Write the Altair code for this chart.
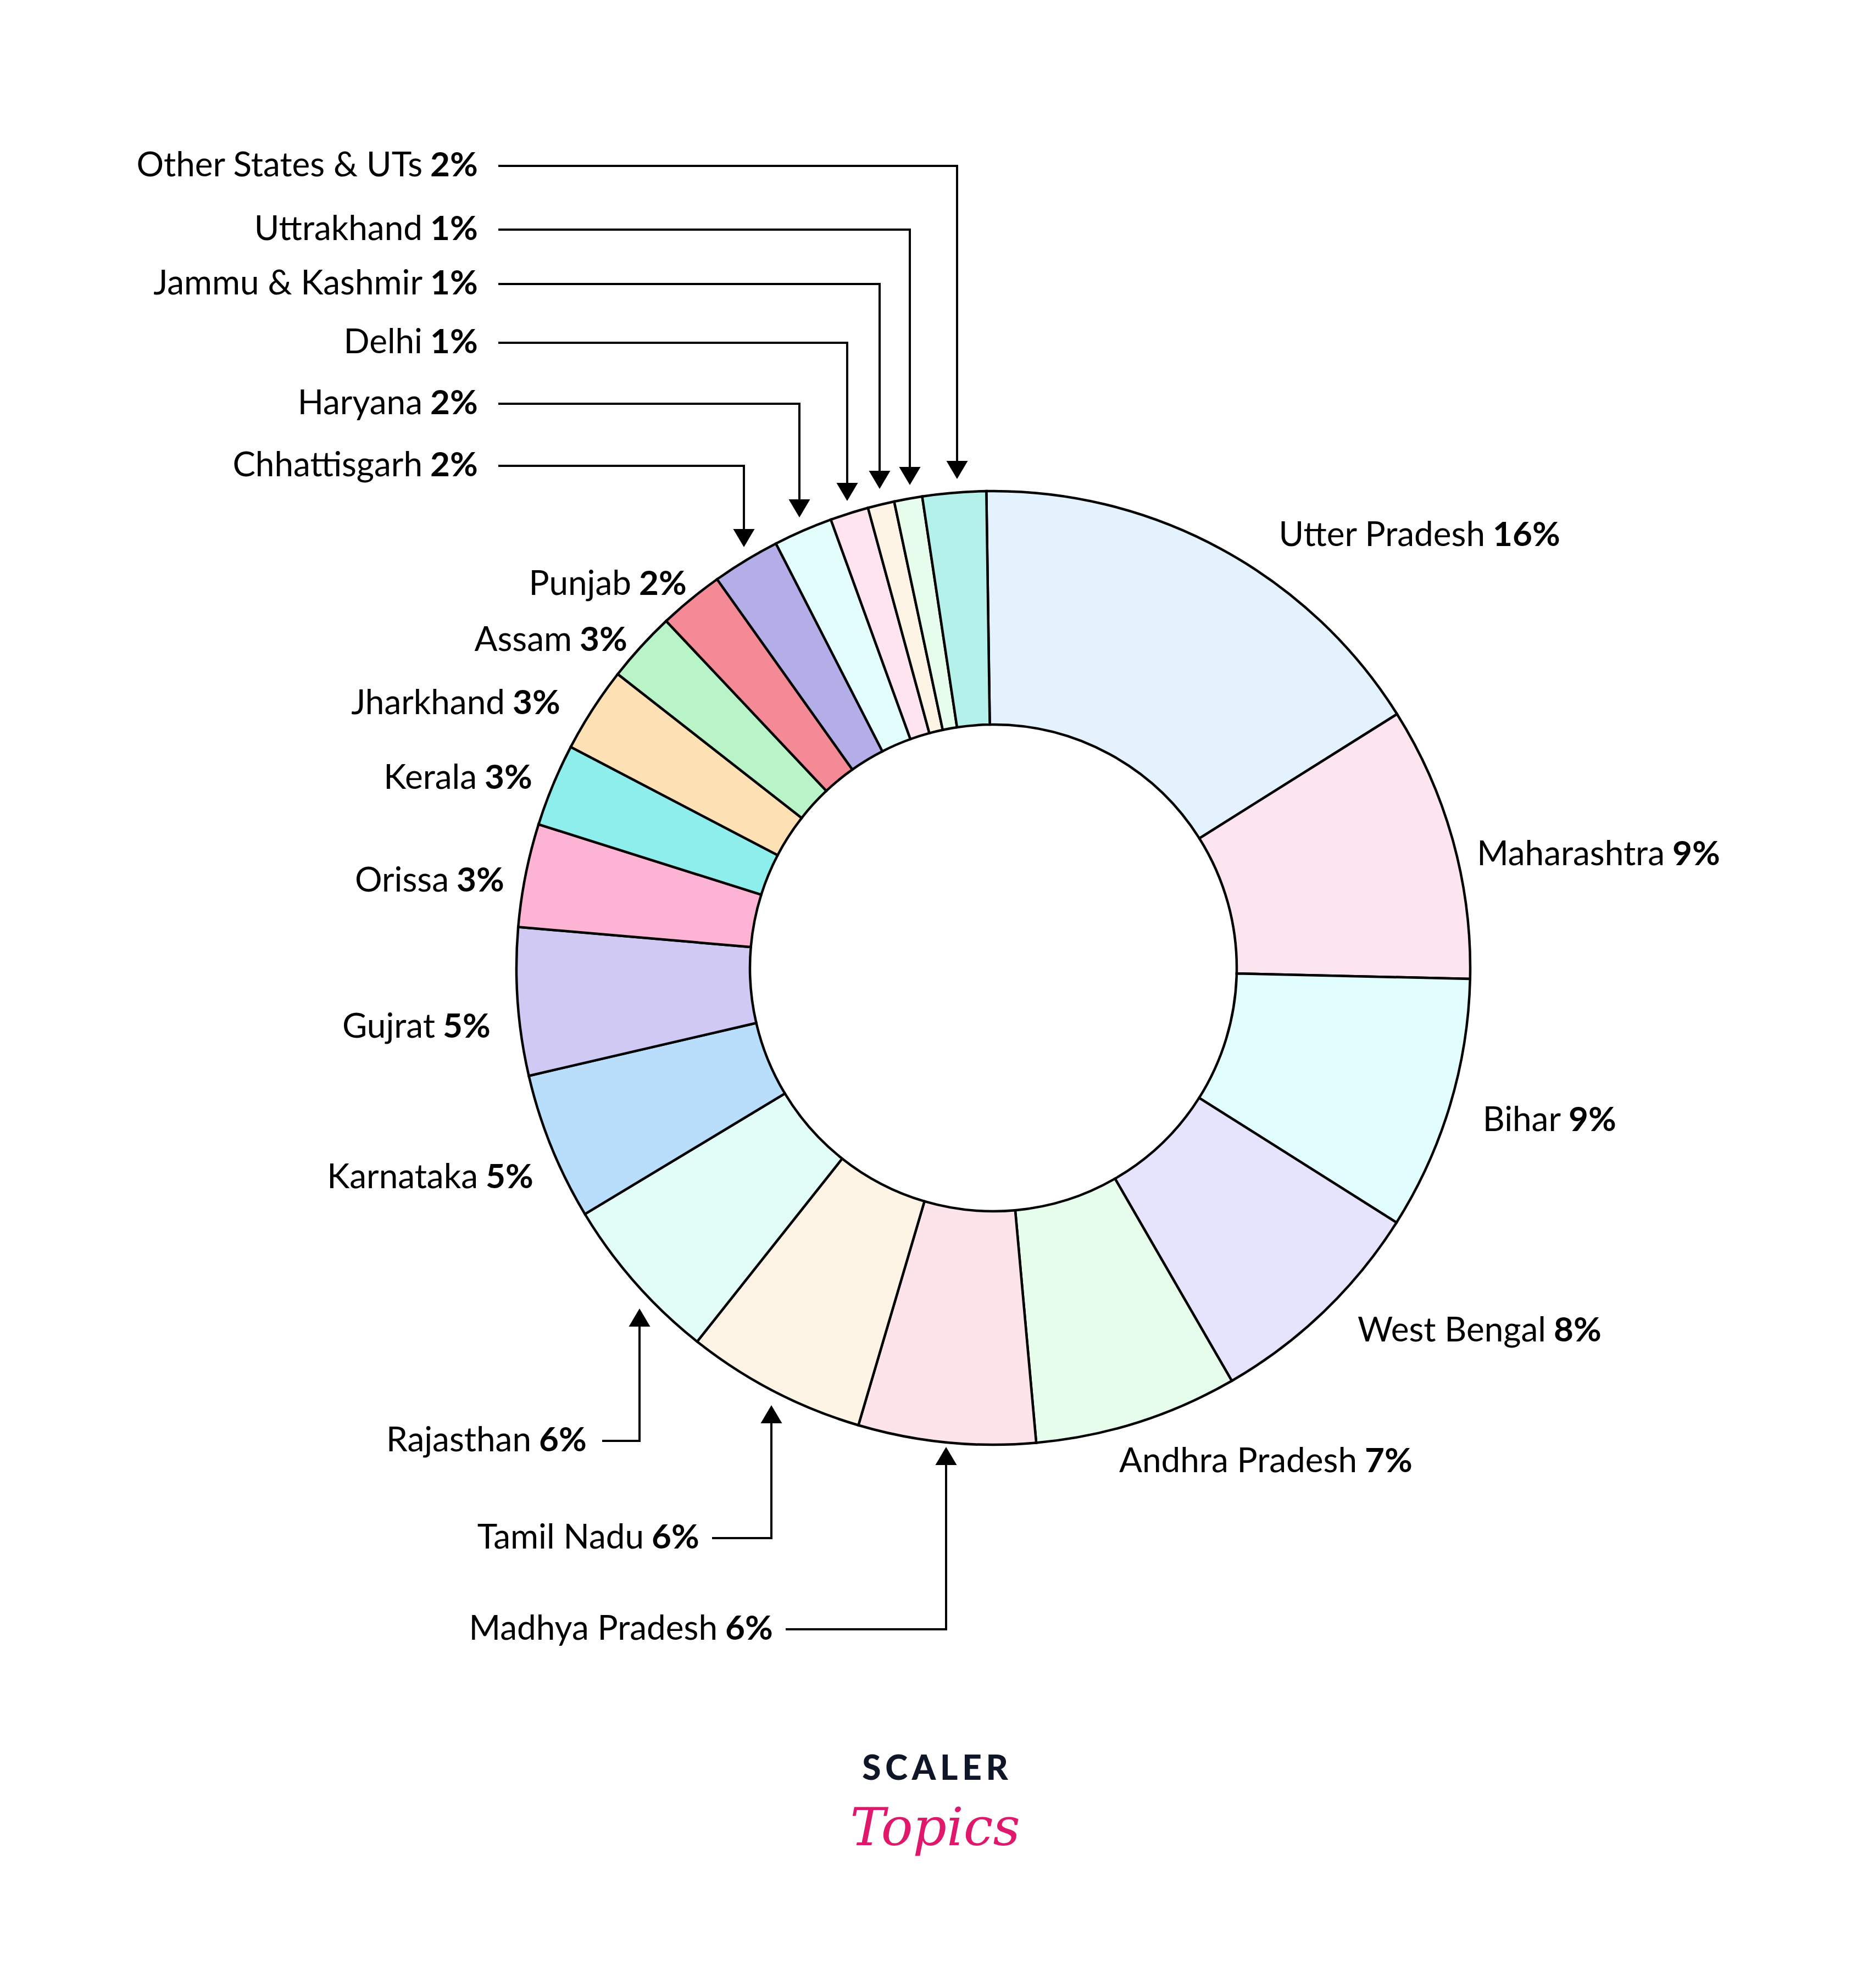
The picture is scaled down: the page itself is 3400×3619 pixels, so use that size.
import math
import altair as alt
import pandas as pd

# ---------------- data ----------------
states = ["Utter Pradesh", "Maharashtra", "Bihar", "West Bengal", "Andhra Pradesh",
          "Madhya Pradesh", "Tamil Nadu", "Rajasthan", "Karnataka", "Gujrat",
          "Orissa", "Kerala", "Jharkhand", "Assam", "Punjab", "Chhattisgarh",
          "Haryana", "Delhi", "Jammu & Kashmir", "Uttrakhand", "Other States & UTs"]
shares = [16.3, 9.3, 8.6, 7.7, 6.9, 6.0, 6.1, 5.7, 5.0, 5.0, 3.5, 2.8, 2.9, 2.4,
          2.2, 2.3, 2.0, 1.3, 0.9, 0.95, 2.15]
pct_labels = ["16%", "9%", "9%", "8%", "7%", "6%", "6%", "6%", "5%", "5%", "3%",
              "3%", "3%", "3%", "2%", "2%", "2%", "1%", "1%", "1%", "2%"]
colors = ["#E3F2FD", "#FDE5F0", "#E2FDFD", "#E6E4FD", "#E6FDEC", "#FDE4EA",
          "#FEF4E6", "#E2FDF8", "#B8DEFC", "#D0C9F4", "#FDB3D4", "#8EEEEC",
          "#FDE1B5", "#B8F4C8", "#F48A96", "#B3AEE8", "#E3FDFD", "#FDE4EE",
          "#FEF4E6", "#E6FDEB", "#B3F1EA"]
# displayed names (the reference leaves a wider gap after "UTs")
name_text = states[:-1] + ["Other States & UTs\u00a0"]

# ---------------- layout (page pixels) ----------------
W, H = 3384, 3603
CX, CY = 1808, 1762
R_OUT, R_IN = 868, 443
START = -0.84 * math.pi / 180  # ring starts slightly left of 12 o'clock

label_x = [2710, 3037, 2848, 2821, 2477, 1313, 1179, 974, 877, 799, 824, 875,
           926, 1048, 1156, 776, 776, 776, 776, 776, 776]
label_y = [975, 1556, 2040, 2423, 2661, 2966, 2800, 2623, 2144, 1870, 1604, 1417,
           1281, 1166, 1064, 848, 735, 624, 517, 418, 302]

callout_state = ["Madhya Pradesh", "Tamil Nadu", "Rajasthan", "Chhattisgarh",
                 "Haryana", "Delhi", "Jammu & Kashmir", "Uttrakhand",
                 "Other States & UTs"]
line_x0 = [1430, 1296, 1096, 907, 907, 907, 907, 907, 907]
corner_x = [1722, 1404, 1164, 1354, 1455, 1542, 1601, 1656, 1742]
line_y = [2966, 2800, 2623, 848, 735, 624, 517, 418, 302]
tip_y = [2634, 2558, 2382, 996, 942, 912, 890, 883, 872]
ARROW_H = 33
ARROW_HALF_W = 19.5

# ---------------- tables ----------------
arc_df = pd.DataFrame({"state": states, "share": shares, "idx": list(range(len(states)))})
lab_df = pd.DataFrame({"state": states, "name": name_text, "pct": pct_labels,
                       "ax": label_x, "ay": label_y})

rows = []
pts = []
for i, s in enumerate(callout_state):
    up = tip_y[i] < line_y[i]
    end_y = tip_y[i] + ARROW_H if up else tip_y[i] - ARROW_H
    rows += [
        {"cid": s, "seq": 0, "lx": line_x0[i], "ly": line_y[i]},
        {"cid": s, "seq": 1, "lx": corner_x[i], "ly": line_y[i]},
        {"cid": s, "seq": 2, "lx": corner_x[i], "ly": end_y},
    ]
    pts.append({"cid": s, "px": corner_x[i], "py": tip_y[i], "dir": "up" if up else "down"})
line_df = pd.DataFrame(rows)
pt_df = pd.DataFrame(pts)

logo_df = pd.DataFrame({"t": ["S\u2009C\u2009A\u2009L\u2009E\u2009R"], "lx": [1702], "ly": [3221]})
logo2_df = pd.DataFrame({"t": ["Topics"], "lx": [1702], "ly": [3330]})

xs = alt.Scale(domain=[8, 8 + W], nice=False, zero=False)
ys = alt.Scale(domain=[8, 8 + H], nice=False, zero=False, reverse=True)

FONT = "Lato"
FS = 62

arcs = alt.Chart(arc_df).mark_arc(
    radius=R_OUT, radius2=R_IN, stroke="black", strokeWidth=4.5, strokeJoin="miter"
).encode(
    theta=alt.Theta("share:Q", stack=True,
                    scale=alt.Scale(range=[START, START + 2 * math.pi])),
    color=alt.Color("state:N", scale=alt.Scale(domain=states, range=colors), legend=None),
    order=alt.Order("idx:Q"),
    x=alt.value(CX - 8),
    y=alt.value(CY - 8),
)

names = alt.Chart(lab_df).mark_text(
    align="right", baseline="middle", font=FONT, fontSize=FS, color="#000000", dx=-7
).encode(
    x=alt.X("ax:Q", scale=xs, axis=None),
    y=alt.Y("ay:Q", scale=ys, axis=None),
    text="name:N",
)

pcts = alt.Chart(lab_df).mark_text(
    align="left", baseline="middle", font=FONT, fontSize=FS, fontWeight="bold",
    color="#000000", dx=7
).encode(
    x=alt.X("ax:Q", scale=xs, axis=None),
    y=alt.Y("ay:Q", scale=ys, axis=None),
    text="pct:N",
)

lines = alt.Chart(line_df).mark_line(
    color="black", strokeWidth=4, strokeJoin="miter", strokeCap="butt"
).encode(
    x=alt.X("lx:Q", scale=xs, axis=None),
    y=alt.Y("ly:Q", scale=ys, axis=None),
    detail="cid:N",
    order="seq:Q",
)

up_path = f"M0,0L{-ARROW_HALF_W},{ARROW_H}L{ARROW_HALF_W},{ARROW_H}Z"
down_path = f"M0,0L{-ARROW_HALF_W},{-ARROW_H}L{ARROW_HALF_W},{-ARROW_H}Z"

arrows_up = alt.Chart(pt_df).transform_filter(alt.datum.dir == "up").mark_point(
    shape=up_path, size=4, filled=True, color="black", opacity=1, strokeWidth=0
).encode(
    x=alt.X("px:Q", scale=xs, axis=None),
    y=alt.Y("py:Q", scale=ys, axis=None),
)
arrows_down = alt.Chart(pt_df).transform_filter(alt.datum.dir == "down").mark_point(
    shape=down_path, size=4, filled=True, color="black", opacity=1, strokeWidth=0
).encode(
    x=alt.X("px:Q", scale=xs, axis=None),
    y=alt.Y("py:Q", scale=ys, axis=None),
)

logo1 = alt.Chart(logo_df).mark_text(
    align="center", baseline="middle", font=FONT, fontSize=62, fontWeight=900,
    color="#0E1628"
).encode(
    x=alt.X("lx:Q", scale=xs, axis=None),
    y=alt.Y("ly:Q", scale=ys, axis=None),
    text="t:N",
)
logo2 = alt.Chart(logo2_df).mark_text(
    align="center", baseline="middle", font="DejaVu Serif", fontSize=96,
    fontStyle="italic", color="#E0186C"
).encode(
    x=alt.X("lx:Q", scale=xs, axis=None),
    y=alt.Y("ly:Q", scale=ys, axis=None),
    text="t:N",
)

chart = alt.layer(arcs, lines, arrows_up, arrows_down, names, pcts, logo1, logo2).properties(
    width=W, height=H, padding=0, autosize=alt.AutoSizeParams(type="none"),
    background="white"
).configure_view(stroke=None)

chart.save("out.html", embed_options={"renderer": "svg", "actions": False})
